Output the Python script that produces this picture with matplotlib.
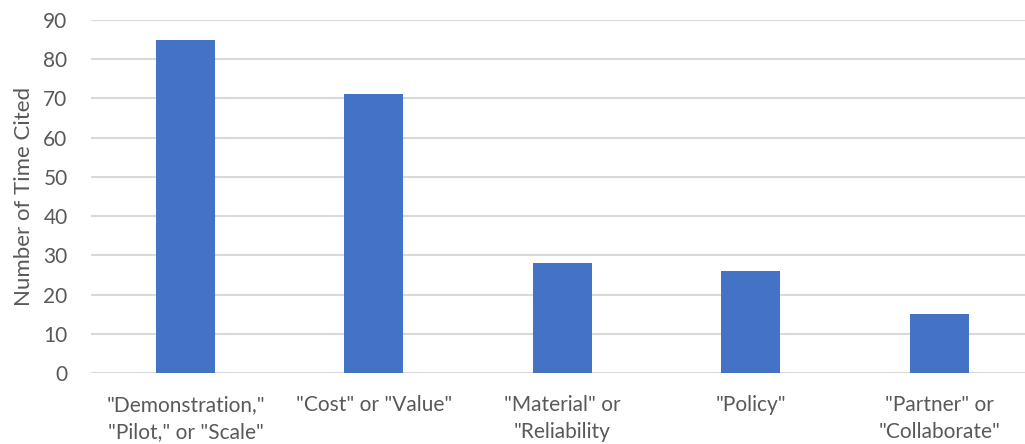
import matplotlib.pyplot as plt

categories = ['"Demonstration,"\n"Pilot," or "Scale"', '"Cost" or "Value"',
              '"Material" or\n"Reliability', '"Policy"', '"Partner" or\n"Collaborate"']
counts = [85, 71, 28, 26, 15]
yticks = list(range(0, 100, 10))

plt.rcParams['font.family'] = ['Lato', 'DejaVu Sans']
grey = '#595959'

fig = plt.figure(figsize=(10.25, 4.44), dpi=100)
ax = fig.add_axes([0.089, 0.160, 0.9195, 0.795])

x = range(len(categories))
ax.bar(x, counts, width=0.313, color='#4472C4', zorder=3)

ax.set_xlim(-0.5, len(categories) - 0.5)
ax.set_ylim(0, 90)
ax.set_yticks(yticks)
ax.set_xticks(list(x))
ax.set_xticklabels(categories, linespacing=1.45)
ax.tick_params(axis='both', length=0, labelsize=15, labelcolor=grey)
ax.tick_params(axis='x', pad=16)
ax.tick_params(axis='y', pad=17)
ax.grid(axis='y', color='#D9D9D9', linewidth=1.5, zorder=0)
for s in ax.spines.values():
    s.set_visible(False)
ax.set_ylabel('Number of Time Cited', fontsize=16, color=grey, labelpad=7)

fig.savefig('out.png', dpi=100)
